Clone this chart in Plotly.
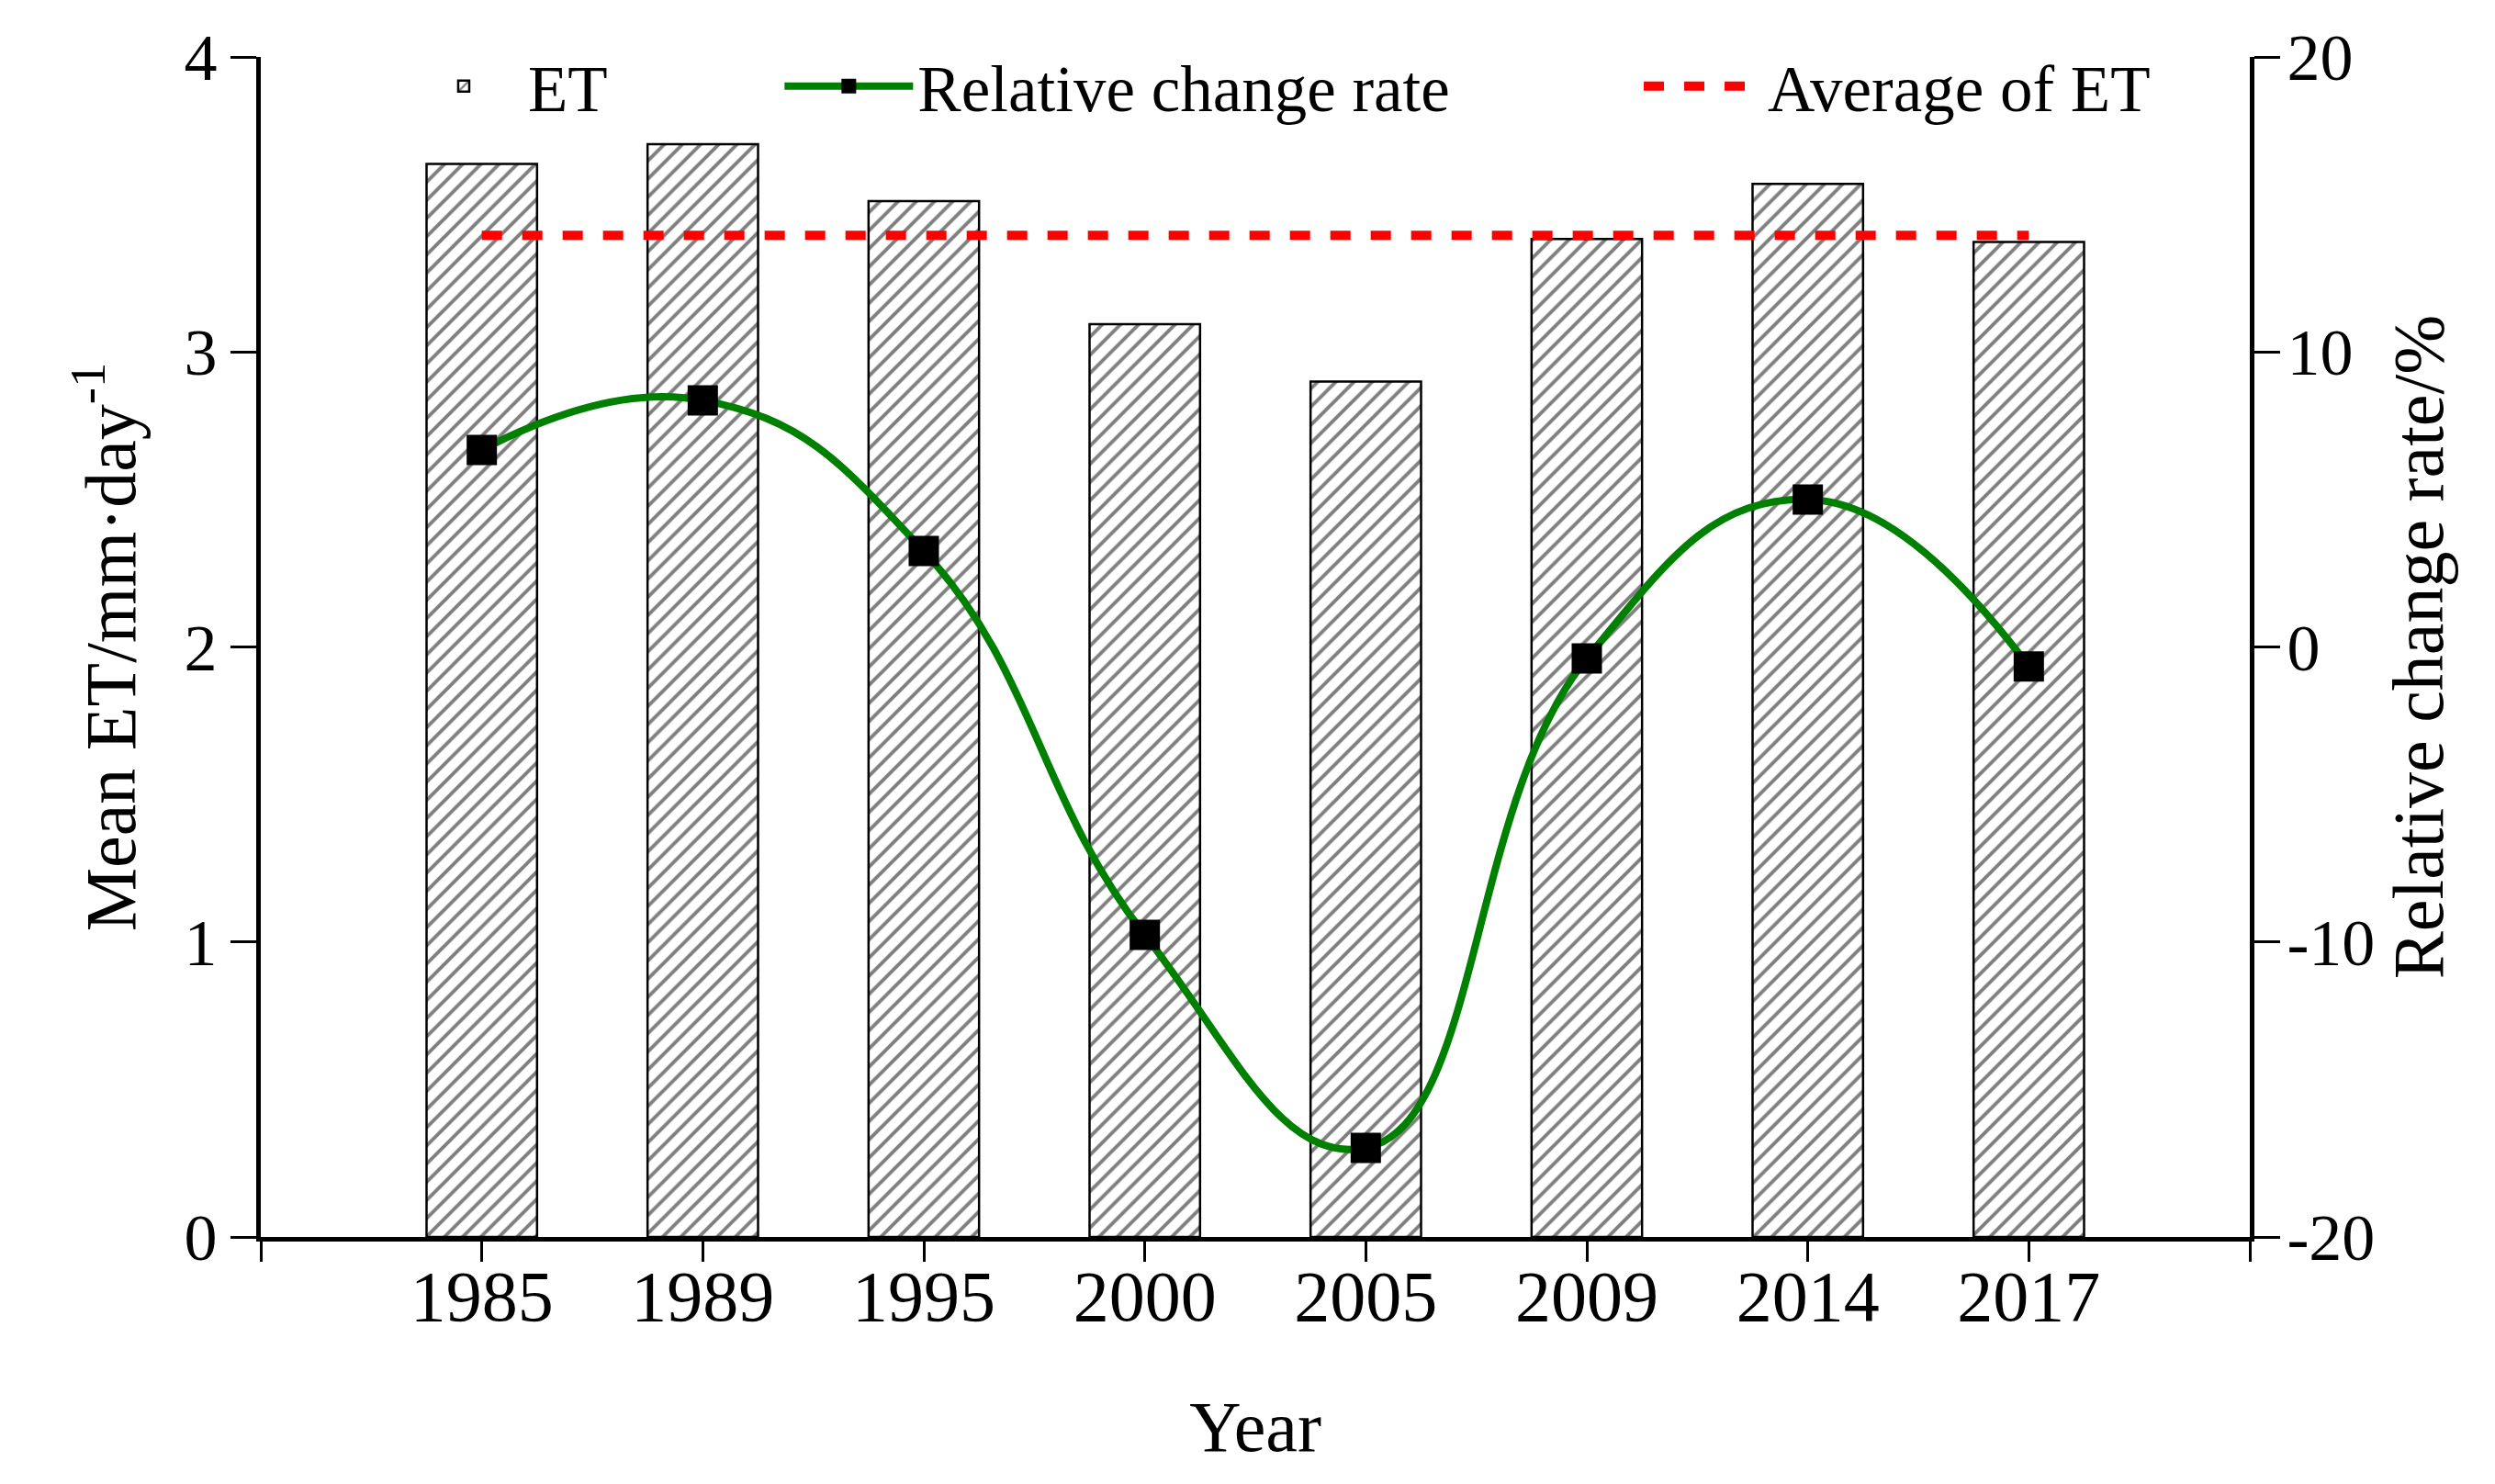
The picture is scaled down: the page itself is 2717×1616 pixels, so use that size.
import plotly.graph_objects as go

# ---- data ----
years = ["1985", "1989", "1995", "2000", "2005", "2009", "2014", "2017"]
et_values = [3.637, 3.704, 3.511, 3.094, 2.900, 3.383, 3.570, 3.373]
relative_change = [6.68, 8.36, 3.25, -9.76, -16.98, -0.39, 5.00, -0.66]
et_average = 3.395
left_ticks = [0, 1, 2, 3, 4]
right_ticks = [-20, -10, 0, 10, 20]

# ---- layout constants ----
W, H = 2717, 1616
FONT = "Liberation Serif"
idx = list(range(len(years)))

fig = go.Figure()

fig.add_trace(go.Bar(
    x=idx, y=et_values, width=0.5, name="ET", showlegend=True,
    marker=dict(color="white",
                line=dict(color="black", width=2.5),
                pattern=dict(shape="/", fgcolor="black", bgcolor="white",
                             size=14, solidity=0.28)),
    legend="legend",
))

fig.add_trace(go.Scatter(
    x=[idx[0], idx[-1]], y=[et_average, et_average],
    mode="lines", name="Average of ET", showlegend=True,
    line=dict(color="#ff0000", width=10, dash="22px,22px"),
    legend="legend3",
))

fig.add_trace(go.Scatter(
    x=idx, y=relative_change, yaxis="y2", showlegend=True,
    mode="lines+markers", name="Relative change rate",
    line=dict(color="#008000", width=8, shape="spline", smoothing=1.3),
    marker=dict(symbol="square", color="black", size=33),
    legend="legend2",
))

axis_common = dict(showgrid=False, zeroline=False, showline=True,
                   linecolor="black", linewidth=5,
                   tickcolor="black", tickwidth=3)

legend_common = dict(orientation="h", yanchor="middle", y=0.975,
                     xanchor="left", bgcolor="rgba(0,0,0,0)",
                     font=dict(family=FONT, size=71, color="black"))

fig.update_layout(
    width=W, height=H, autosize=False,
    showlegend=True,
    margin=dict(l=276, r=275, t=54, b=277),
    plot_bgcolor="white", paper_bgcolor="white",
    font=dict(family=FONT, color="black"),
    bargap=0.5,
    xaxis=dict(**axis_common, range=[-1, len(years)],
               ticks="",
               tickmode="array",
               tickvals=idx,
               ticktext=years,
               ticklabelstandoff=-8,
               minor=dict(ticks="outside", ticklen=22, tickwidth=3,
                          tickcolor="black", showgrid=False,
                          tickmode="array",
                          tickvals=list(range(-1, len(years) + 1))),
               tickfont=dict(family=FONT, size=78),
               title=dict(text="Year", font=dict(family=FONT, size=78),
                          standoff=73)),
    yaxis=dict(**axis_common, range=[0, 4], ticks="outside",
               tickmode="array", tickvals=left_ticks,
               ticktext=[str(v) for v in left_ticks],
               ticklen=28, ticklabelstandoff=0,
               tickfont=dict(family=FONT, size=72),
               title=dict(text="Mean ET/mm·day<sup>-1</sup>",
                          font=dict(family=FONT, size=78), standoff=29)),
    yaxis2=dict(**axis_common, overlaying="y", side="right", anchor="x",
                range=[-20, 20], ticks="outside",
                tickmode="array", tickvals=right_ticks,
                ticktext=[str(v) for v in right_ticks],
                ticklen=28, ticklabelstandoff=-7,
                tickfont=dict(family=FONT, size=72),
                title=dict(text="Relative change rate/%",
                           font=dict(family=FONT, size=78), standoff=22)),
    legend=dict(**legend_common, x=0.0697, itemwidth=130),
    legend2=dict(**legend_common, x=0.261, itemwidth=140),
    legend3=dict(**legend_common, x=0.693, itemwidth=130),
)

fig.write_html("out.html")
